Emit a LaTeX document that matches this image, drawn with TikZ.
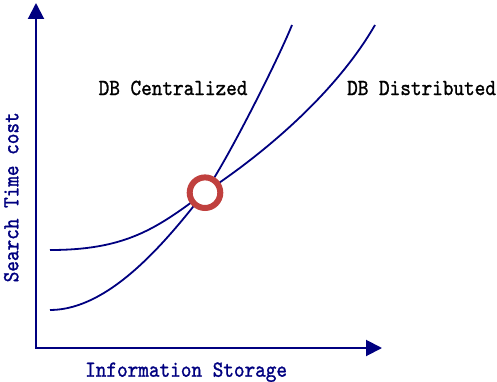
\documentclass[tikz,border=0pt]{standalone}
\usepackage{fontspec}
\usetikzlibrary{arrows.meta}
\newfontfamily\lblfont[FakeBold=1.2, FakeStretch=0.88]{lmmono10-regular.otf}
\definecolor{axisblue}{RGB}{0,0,128}
\definecolor{ringred}{RGB}{192,64,62}
\begin{document}
\begin{tikzpicture}[x=1pt,y=1pt,
  lbl/.style={inner sep=0pt, anchor=base west, font=\fontsize{23}{28}\selectfont\lblfont},
  axis/.style={axisblue, line width=2pt, {Triangle[length=16pt,width=16pt]}-{Triangle[length=16pt,width=16pt]}},
  curve/.style={axisblue, line width=1.8pt}]
\useasboundingbox (0,0) rectangle (497,381);
%\draw [lightgray](0,0) grid[step=50] (497,381);
\coordinate (O) at (36,33);
\coordinate (ytip) at (36,378);
\coordinate (xtip) at (382,33);
\coordinate (C) at (204,188);

\draw [axis] (ytip) -- (O) -- (xtip);

\draw [curve](50,71) .. controls (110,71) and (167,140.7) .. (C)
  .. controls (222.5,211.6) and (277,318.9) .. (292,356);
\draw [curve](50,131) .. controls (125,131) and (156,151.9) .. (C)
  .. controls (254.3,220.7) and (332.5,282.4) .. (375,356);

\node (cross) [circle, draw=ringred, fill=white, line width=6pt, minimum size=30.6pt, inner sep=0pt] at (205,188.3) {};

\node (cent) [lbl] at (98.5,286) {DB Centralized};
\node (dist) [lbl] at (347,286) {DB Distributed};
\node (xlab) [lbl, axisblue] at (85,4.3) {Information Storage};
\node (ylab) [lbl, axisblue, rotate=90] at (18.3,98.5) {Search Time cost};
\end{tikzpicture}
\end{document}
